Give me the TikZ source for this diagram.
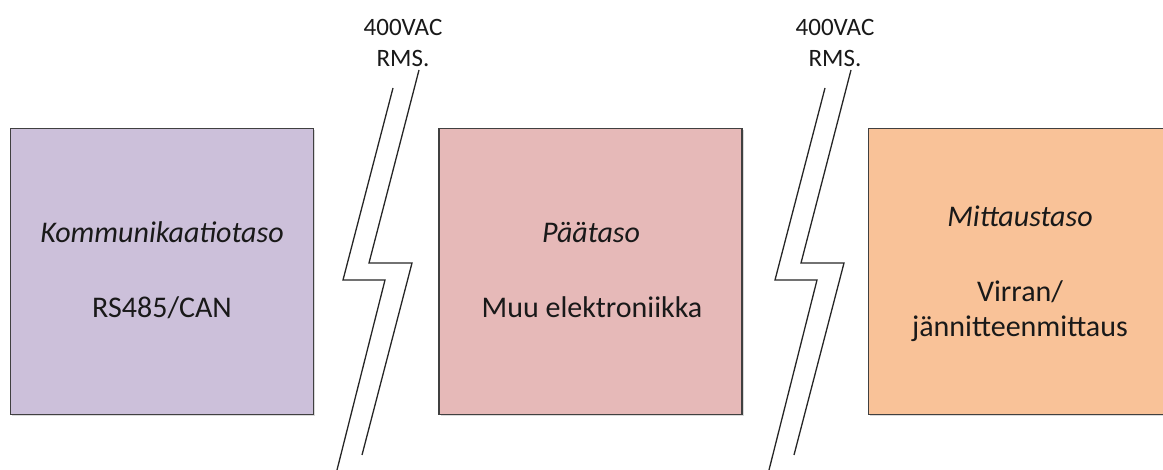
\documentclass[tikz,border=0pt]{standalone}
\usepackage{fontspec}
\setmainfont{Carlito}
\usetikzlibrary{shadows}

\definecolor{kommcol}{RGB}{204,192,218}
\definecolor{paacol}{RGB}{230,185,184}
\definecolor{mittcol}{RGB}{249,194,152}

\begin{document}
\begin{tikzpicture}[x=1pt, y=-1pt,
		level/.style = {draw=black!75, line width=1.6pt, minimum width=303pt, minimum height=286pt,
			drop shadow={shadow xshift=1.5pt, shadow yshift=-1.5pt, opacity=0.3}},
		title/.style = {anchor=base, font=\fontsize{30}{35}\selectfont\itshape, text=black!90},
		body/.style = {anchor=base, align=center, font=\fontsize{30}{35}\selectfont, text=black!90},
		volt/.style = {align=center, font=\fontsize{25}{31}\selectfont, text=black!90},
		barrier/.style = {line width=1.3pt, black!85}]
	\clip (0,0) rectangle (1163,470);

	% the three levels
	\node[level, fill=kommcol] (komm) at (162,271.5) {};
	\node[level, fill=paacol] (paa) at (590.5,271.5) {};
	\node[level, fill=mittcol] (mitt) at (1020,271.5) {};

	\node[title] (kommT) at (162,243) {Kommunikaatiotaso};
	\node[body] (kommB) at (162,318) {RS485/CAN};
	\node[title] (paaT) at (591,243) {Päätaso};
	\node[body] (paaB) at (592,318) {Muu elektroniikka};
	\node[title] (mittT) at (1020,227) {Mittaustaso};
	\node[body] (mittB) at (1020,337) {Virran/\\jännitteenmittaus};

	% isolation barriers between levels
	\foreach \bx/\name in {393/eka, 825/toka} {
		\coordinate (\name) at (\bx,88);
		\draw[barrier] (\name) -- ++(-50,192) -- ++(42,0) -- ++(-48,190);
		\draw[barrier] ([shift={(26,-18)}]\name) -- ++(-50,193) -- ++(43,0) -- ++(-50,192);
		\node[volt] (\name V) at ([shift={(10,-45)}]\name) {400VAC\\RMS.};
	}
\end{tikzpicture}
\end{document}
